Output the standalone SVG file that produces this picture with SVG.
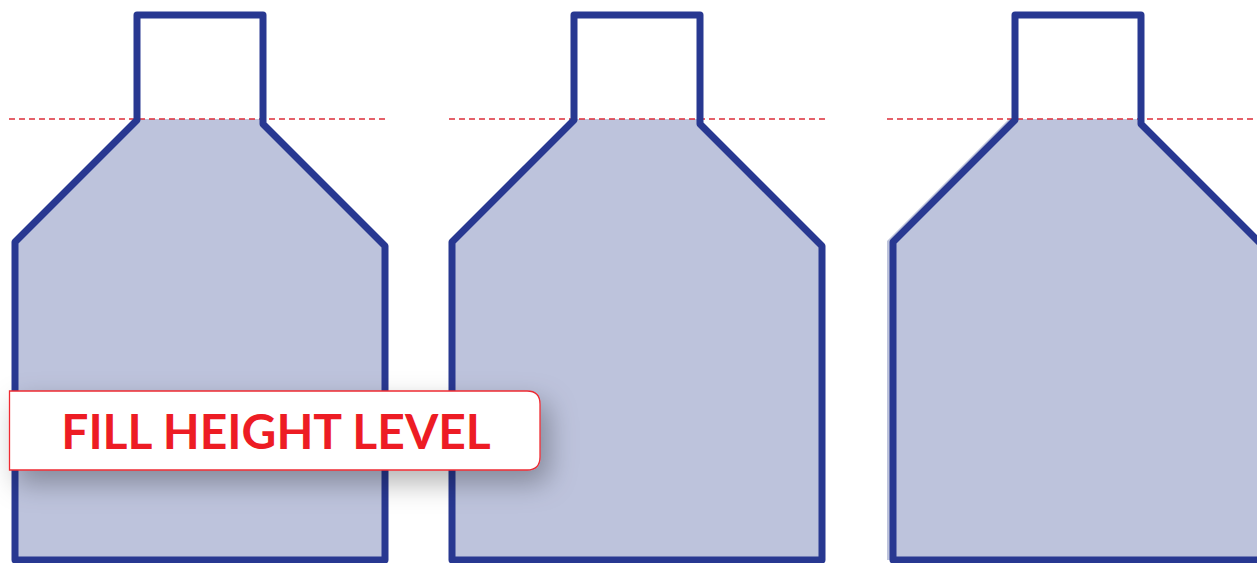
<svg xmlns="http://www.w3.org/2000/svg" width="1257" height="563" viewBox="0 0 1257 563">
  <defs>
    <style>
      .fill { fill: #BDC3DC; stroke: none; }
      .outline { fill: none; stroke: #283891; stroke-width: 7; stroke-linejoin: round; }
      .level { stroke: #DD2E38; stroke-width: 1.3; stroke-dasharray: 6 4; fill: none; }
      .label-box { fill: #FFFFFF; stroke: #EE2B33; stroke-width: 1.3; }
      .label-text { font-family: Lato, "Liberation Sans", sans-serif; font-weight: 700; font-size: 48px; fill: #ED1C24; }
    </style>
    <path id="bottleFill" d="M137,119 L263,119 L263,124 L385,246 L385,560 L15,560 L15,242 Z"/>
    <path id="bottleLine" d="M263,124 L263,15 L137,15 L137,120 L15,242 L15,560 L385,560 L385,246 Z"/>
    <filter id="shadow" x="-20%" y="-50%" width="150%" height="250%">
      <feDropShadow dx="8" dy="12" stdDeviation="14" flood-color="#000000" flood-opacity="0.3"/>
    </filter>
  </defs>

  <g id="bottle-1">
    <use href="#bottleFill" class="fill"/>
    <line class="level" x1="9" y1="119" x2="386" y2="119"/>
    <use href="#bottleLine" class="outline"/>
  </g>

  <g id="bottle-2" transform="translate(437,0)">
    <use href="#bottleFill" class="fill"/>
    <line class="level" x1="12" y1="119" x2="390" y2="119"/>
    <use href="#bottleLine" class="outline"/>
  </g>

  <g id="bottle-3" transform="translate(878,0)">
    <path class="fill" d="M131,119 L263,119 L263,124 L385,246 L385,560 L9,560 L9,241 Z"/>
    <line class="level" x1="9" y1="119" x2="390" y2="119"/>
    <use href="#bottleLine" class="outline"/>
  </g>

  <g id="connectors"></g>

  <g id="label">
    <path class="label-box" filter="url(#shadow)" d="M9.5,391 L527,391 Q540,391 540,404 L540,457 Q540,470 527,470 L9.5,470 Z"/>
    <text class="label-text" x="276" y="449" text-anchor="middle">FILL HEIGHT LEVEL</text>
  </g>
</svg>
